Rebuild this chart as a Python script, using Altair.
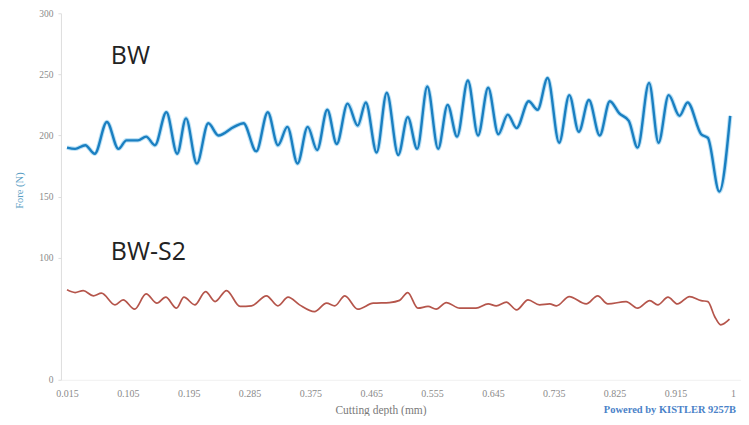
import altair as alt
import pandas as pd

# BW series (blue)
bw_x = [0.015, 0.027, 0.042, 0.056, 0.074, 0.091, 0.103, 0.120, 0.132, 0.145,
        0.162, 0.178, 0.191, 0.207, 0.224, 0.239, 0.262, 0.276, 0.295, 0.312,
        0.327, 0.341, 0.356, 0.371, 0.385, 0.400, 0.414, 0.430, 0.445, 0.457,
        0.473, 0.488, 0.505, 0.519, 0.533, 0.548, 0.564, 0.578, 0.592, 0.608,
        0.623, 0.638, 0.653, 0.667, 0.680, 0.698, 0.711, 0.726, 0.743, 0.758,
        0.772, 0.787, 0.803, 0.818, 0.832, 0.846, 0.859, 0.876, 0.890, 0.905,
        0.921, 0.933, 0.953, 0.963, 0.980, 0.996]
bw_y = [190, 189, 192, 185, 211, 189, 196, 196, 199, 192,
        219, 185, 214, 177, 210, 200, 207, 210, 187, 219,
        192, 207, 177, 207, 188, 221, 193, 226, 208, 227,
        186, 235, 184, 215, 189, 240, 189, 225, 199, 245,
        200, 239, 201, 217, 206, 228, 221, 247, 194, 233,
        203, 229, 200, 228, 218, 212, 190, 243, 194, 233,
        216, 227, 201, 198, 154, 216]

# BW-S2 series (red)
s2_x = [0.015, 0.027, 0.039, 0.054, 0.066, 0.086, 0.098, 0.115, 0.132, 0.148,
        0.161, 0.177, 0.188, 0.204, 0.220, 0.234, 0.251, 0.271, 0.288, 0.310,
        0.327, 0.342, 0.359, 0.381, 0.399, 0.411, 0.426, 0.445, 0.468, 0.492,
        0.507, 0.519, 0.534, 0.549, 0.561, 0.576, 0.596, 0.620, 0.638, 0.650,
        0.665, 0.680, 0.697, 0.714, 0.729, 0.739, 0.758, 0.783, 0.800, 0.815,
        0.842, 0.859, 0.877, 0.889, 0.904, 0.918, 0.936, 0.953, 0.963, 0.973,
        0.982, 0.995]
s2_y = [73.6, 71.4, 73.0, 68.7, 70.9, 61.3, 65.4, 57.8, 70.3, 62.7,
        67.6, 58.6, 67.6, 61.3, 72.2, 64.0, 73.0, 60.0, 60.5, 68.7,
        60.5, 67.6, 61.3, 55.8, 62.7, 60.5, 68.7, 57.8, 62.7, 63.2,
        65.0, 71.4, 58.6, 60.0, 57.8, 63.2, 58.6, 58.6, 62.1, 60.5,
        63.5, 57.2, 65.4, 61.3, 62.1, 60.5, 68.1, 62.1, 68.7, 62.1,
        64.0, 58.6, 64.8, 61.3, 67.6, 62.1, 68.1, 64.8, 64.0, 51.8,
        45.0, 49.6]

x_ticks = [0.015, 0.105, 0.195, 0.285, 0.375, 0.465, 0.555, 0.645, 0.735, 0.825, 0.915, 1.0]
y_ticks = [0, 100, 150, 200, 250, 300]

df = pd.concat([
    pd.DataFrame({"depth": bw_x, "force": bw_y, "series": "BW"}),
    pd.DataFrame({"depth": s2_x, "force": s2_y, "series": "BW-S2"}),
])

serif = "Liberation Serif"

x_enc = alt.X("depth:Q",
              scale=alt.Scale(domain=[0.006, 1.012], nice=False, zero=False),
              axis=alt.Axis(values=x_ticks, title="Cutting depth (mm)",
                            labelExpr="datum.value == 1 ? '1' : format(datum.value, '.3f')",
                            labelFont=serif, labelFontSize=10, labelColor="#8a8a8a",
                            labelPadding=9, ticks=False, domainColor="#f0f0f0",
                            grid=False, titleFont=serif, titleFontSize=11.5,
                            titleFontWeight="normal", titleColor="#7a7a7a",
                            titleX=320, titleY=31, titleBaseline="middle"))
y_enc = alt.Y("force:Q",
              scale=alt.Scale(domain=[0, 300], nice=False),
              axis=alt.Axis(values=y_ticks, title="Fore (N)",
                            labelFont=serif, labelFontSize=9.5, labelColor="#8a8a8a",
                            labelPadding=5, tickSize=3, tickColor="#dddddd",
                            domainColor="#dddddd", grid=False,
                            titleFont=serif, titleFontSize=10.5, titleFontWeight="normal",
                            titleColor="#5a9ec4", titleX=-41, titleY=177,
                            titleAlign="center", titleBaseline="middle"))

color = alt.Color("series:N", scale=alt.Scale(domain=["BW", "BW-S2"],
                                              range=["#1a7fc1", "#b5554b"]), legend=None)

base = alt.Chart(df).encode(x=x_enc, y=y_enc)

glow = alt.Chart(df[df.series == "BW"]).mark_line(
    interpolate="monotone", strokeWidth=4.5, color="#8fcdef", opacity=0.6
).encode(x=x_enc, y=y_enc)

lines = alt.Chart(df).mark_line(interpolate="monotone").encode(
    x=x_enc, y=y_enc, color=color,
    strokeWidth=alt.StrokeWidth("series:N", scale=alt.Scale(domain=["BW", "BW-S2"], range=[2.4, 1.7]), legend=None)
)

lbl_bw = alt.Chart(pd.DataFrame({"t": ["BW"]})).mark_text(
    font="Open Sans", fontSize=25, color="#222222", align="left", baseline="middle"
).encode(text="t:N", x=alt.value(50), y=alt.value(43))

lbl_s2 = alt.Chart(pd.DataFrame({"t": ["BW-S2"]})).mark_text(
    font="Open Sans", fontSize=25, color="#222222", align="left", baseline="middle"
).encode(text="t:N", x=alt.value(50), y=alt.value(239))

powered = alt.Chart(pd.DataFrame({"t": ["Powered by KISTLER 9257B"]})).mark_text(
    font=serif, fontSize=10.5, fontWeight="bold", color="#4a82c8", align="right", baseline="middle"
).encode(text="t:N", x=alt.value(676), y=alt.value(397))

chart = alt.layer(glow, lines, lbl_bw, lbl_s2, powered).properties(
    width=681, height=367,
    autosize=alt.AutoSizeParams(type="none"),
    padding={"left": 53, "top": 5, "right": 0, "bottom": 36},
    background="white",
).configure_view(strokeWidth=0)

chart.save("out.html", embed_options={"renderer": "svg", "actions": False})
